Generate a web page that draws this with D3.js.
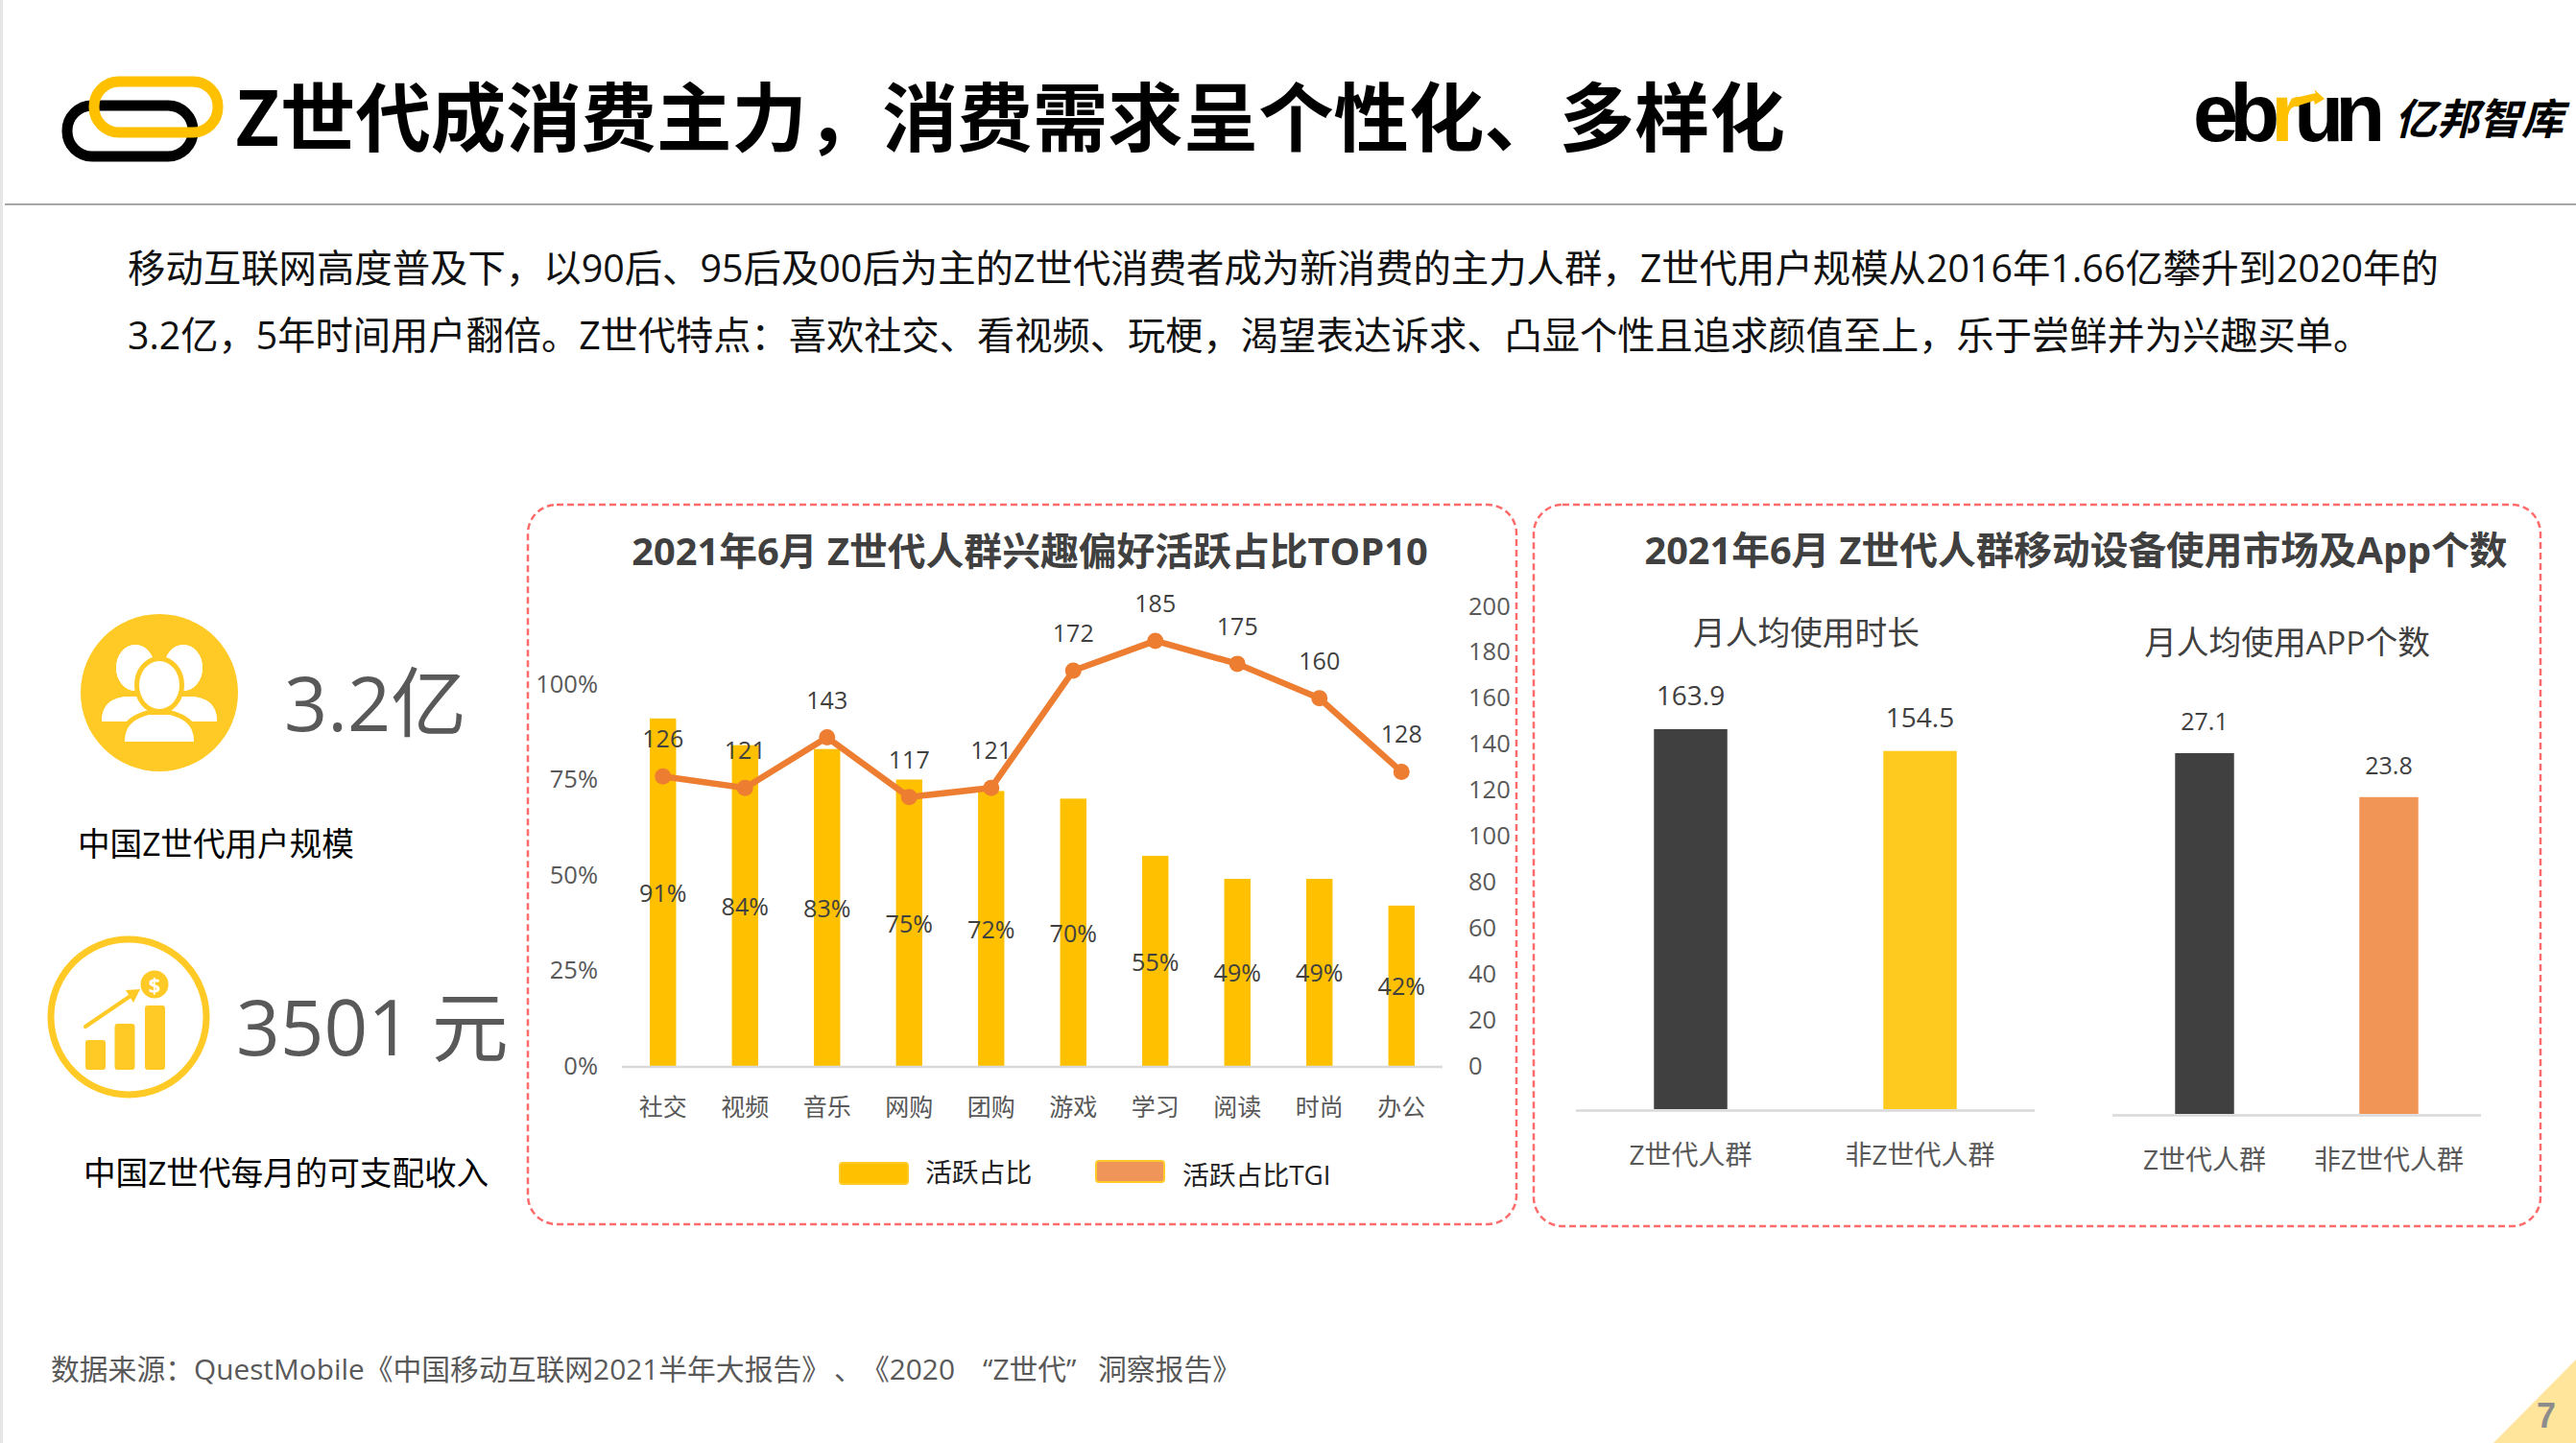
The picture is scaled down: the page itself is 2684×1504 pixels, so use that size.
<!DOCTYPE html>
<html>
<head>
<meta charset="utf-8">
<script src="https://cdn.jsdelivr.net/npm/d3@7"></script>
<style>
  body { margin: 0; background: #fff; }
  svg { display: block; }
  text { font-family: "Open Sans", "Noto Sans CJK SC", sans-serif; }
  .domain { display: none; }
</style>
</head>
<body>
<div id="chart"></div>
<script>
// interest chart
const interestCats = ["社交", "视频", "音乐", "网购", "团购", "游戏", "学习", "阅读", "时尚", "办公"];
const activeShare = [91, 84, 83, 75, 72, 70, 55, 49, 49, 42];
const activeTgi = [126, 121, 143, 117, 121, 172, 185, 175, 160, 128];
const shareTicks = [0, 25, 50, 75, 100];
const tgiTicks = [0, 20, 40, 60, 80, 100, 120, 140, 160, 180, 200];

// device usage charts
const groupCats = ["Z世代人群", "非Z世代人群"];
const usageHours = [163.9, 154.5];
const usageApps = [27.1, 23.8];

const w = 2684;
const h = 1504;
const yellow = "#ffc000";
const orange = "#ed7d31";
const grey = "#595959";
const dark = "#404040";

const svg = d3
  .select("#chart")
  .append("svg")
  .attr("width", w)
  .attr("height", h);

function label(parent, x, y, str, size, fill, anchor, weight) {
  return parent
    .append("text")
    .attr("x", x)
    .attr("y", y)
    .attr("dominant-baseline", "central")
    .attr("text-anchor", anchor || "start")
    .attr("font-size", size)
    .attr("font-weight", weight || 400)
    .attr("fill", fill)
    .text(str);
}

// page furniture
svg.append("rect").attr("width", 3).attr("height", h).attr("fill", "#e6e6e6");
svg.append("line")
  .attr("x1", 5).attr("x2", w).attr("y1", 213).attr("y2", 213)
  .attr("stroke", "#a6a6a6").attr("stroke-width", 2);

svg.append("rect")
  .attr("x", 70).attr("y", 110).attr("width", 131).attr("height", 53).attr("rx", 26)
  .attr("fill", "none").attr("stroke", "#000").attr("stroke-width", 11);
svg.append("rect")
  .attr("x", 98).attr("y", 85).attr("width", 129).attr("height", 53).attr("rx", 26)
  .attr("fill", "none").attr("stroke", yellow).attr("stroke-width", 11);

label(svg, 244, 118, "Z世代成消费主力，消费需求呈个性化、多样化", 78.4, "#000", "start", 700)
  .style("font-family", '"Noto Sans CJK SC", sans-serif');

// ebrun logo
const logo = svg.append("text")
  .attr("x", 2285).attr("y", 147)
  .attr("font-size", 85)
  .attr("font-weight", 700)
  .attr("letter-spacing", -9)
  .style("font-family", '"Liberation Sans", sans-serif');
logo.append("tspan").text("eb");
logo.append("tspan").attr("fill", yellow).text("r");
logo.append("tspan").text("un");
svg.append("path")
  .attr("d", "M2387 103 L2413 97 L2411 93 L2422 103 L2412 109 L2411 105 L2392 111 Z")
  .attr("fill", yellow);
label(svg, 2495, 123, "亿邦智库", 44, "#000", "start", 700)
  .style("font-style", "italic");

// intro text
const intro = [
  "移动互联网高度普及下，以90后、95后及00后为主的Z世代消费者成为新消费的主力人群，Z世代用户规模从2016年1.66亿攀升到2020年的",
  "3.2亿，5年时间用户翻倍。Z世代特点：喜欢社交、看视频、玩梗，渴望表达诉求、凸显个性且追求颜值至上，乐于尝鲜并为兴趣买单。"
];
label(svg, 133, 279, intro[0], 39.4, "#111");
label(svg, 133, 348, intro[1], 39.25, "#111");

// left column: user icon
const iconYellow = "#ffc926";
const people = svg.append("g");
people.append("circle")
  .attr("cx", 166).attr("cy", 722).attr("r", 82)
  .attr("fill", iconYellow);

function person(g, cx, headY, rx, ry, bottom, half, stroke) {
  const shoulder = headY + ry - 6;
  const d = `M${cx - half} ${bottom} C${cx - half} ${bottom - 18} ${cx - half * 0.7} ${bottom - 24} ${cx - half * 0.3} ${shoulder + 12}` +
    ` L${cx + half * 0.3} ${shoulder + 12} C${cx + half * 0.7} ${bottom - 24} ${cx + half} ${bottom - 18} ${cx + half} ${bottom} Z`;
  [stroke, false].forEach((s) => {
    g.append("path").attr("d", d).attr("fill", "#fff")
      .attr("stroke", s ? iconYellow : "none").attr("stroke-width", 10);
    g.append("ellipse")
      .attr("cx", cx).attr("cy", headY).attr("rx", rx).attr("ry", ry)
      .attr("fill", "#fff")
      .attr("stroke", s ? iconYellow : "none").attr("stroke-width", 10);
  });
}
person(people, 141, 696, 20, 24, 752, 35, false);
person(people, 191, 696, 20, 24, 752, 35, false);
person(people, 166, 714, 21, 25, 773, 36, true);

label(svg, 296, 731, "3.2亿", 79, grey);
label(svg, 81, 879, "中国Z世代用户规模", 33.6, "#000");

// left column: income icon
const income = svg.append("g");
income.append("circle")
  .attr("cx", 134).attr("cy", 1060).attr("r", 81)
  .attr("fill", "none").attr("stroke", iconYellow).attr("stroke-width", 7);
income.selectAll("rect")
  .data([[89, 1084], [119.5, 1067], [151, 1048]])
  .join("rect")
  .attr("x", (d) => d[0])
  .attr("y", (d) => d[1])
  .attr("width", 21)
  .attr("height", (d) => 1115 - d[1])
  .attr("rx", 3)
  .attr("fill", iconYellow);
income.append("line")
  .attr("x1", 89).attr("y1", 1070).attr("x2", 136).attr("y2", 1038)
  .attr("stroke", iconYellow).attr("stroke-width", 4).attr("stroke-linecap", "round");
income.append("path").attr("d", "M146 1031 L131 1032 L139 1045 Z").attr("fill", iconYellow);
income.append("circle").attr("cx", 161).attr("cy", 1026).attr("r", 14.5).attr("fill", iconYellow);
label(income, 161, 1026, "$", 22, "#fff", "middle", 700);

label(svg, 246, 1068, "3501 元", 80, grey);
label(svg, 87, 1222, "中国Z世代每月的可支配收入", 33.6, "#000");

// source line, split so the wide gaps fall where they do on the slide
const source = svg.append("g");
label(source, 53, 1426, "数据来源：QuestMobile《中国移动互联网2021半年大报告》", 29.8, grey);
label(source, 869, 1426, "、", 29.8, grey);
label(source, 897, 1426, "《2020", 29.8, grey);
label(source, 1024, 1426, "“Z世代”", 29.8, grey);
label(source, 1144, 1426, "洞察报告》", 29.8, grey);

// page number corner
svg.append("path").attr("d", `M2598 ${h} L${w} 1417 L${w} ${h} Z`).attr("fill", "#ffe49b");
label(svg, 2653, 1475, "7", 36, "#8c8c8c", "middle", 700)
  .style("font-family", '"Liberation Sans", sans-serif');

// dashed panels
[[550, 526, 1030, 750], [1598, 526, 1049, 752]].forEach((p) => {
  svg.append("rect")
    .attr("x", p[0]).attr("y", p[1]).attr("width", p[2]).attr("height", p[3]).attr("rx", 30)
    .attr("fill", "none").attr("stroke", "#ff6b6b").attr("stroke-width", 2.5)
    .attr("stroke-dasharray", "7 4");
});

label(svg, 1073, 573, "2021年6月 Z世代人群兴趣偏好活跃占比TOP10", 39.8, dark, "middle", 700);
label(svg, 2163, 573, "2021年6月 Z世代人群移动设备使用市场及App个数", 39.7, dark, "middle", 700);

// interest chart
const baseY = 1111;
const x = d3.scaleBand().domain(interestCats).range([648, 1503]).paddingInner(0.68).paddingOuter(0.34);
const yShare = d3.scaleLinear().domain([0, 100]).range([baseY, baseY - 398]);
const yTgi = d3.scaleLinear().domain([0, 200]).range([baseY, 632]);

const axisLine = (g, x1, x2, y) =>
  g.append("line")
    .attr("x1", x1).attr("x2", x2).attr("y1", y).attr("y2", y)
    .attr("stroke", "#d9d9d9").attr("stroke-width", 2.5);

const styleAxis = (g, size, color) => {
  g.selectAll("text")
    .attr("font-size", size)
    .attr("fill", color)
    .attr("dominant-baseline", "central")
    .attr("dy", 0)
    .style("font-family", null);
  g.attr("font-family", null);
};

svg.append("g")
  .attr("transform", `translate(646, -2)`)
  .call(d3.axisLeft(yShare).tickValues(shareTicks).tickSize(0).tickPadding(23).tickFormat((d) => d + "%"))
  .call(styleAxis, 25.5, grey);

svg.append("g")
  .attr("transform", `translate(1530, -2)`)
  .call(d3.axisRight(yTgi).tickValues(tgiTicks).tickSize(0).tickPadding(0))
  .call(styleAxis, 25.5, grey);

svg.selectAll(".share-bar")
  .data(activeShare)
  .join("rect")
  .attr("class", "share-bar")
  .attr("x", (d, i) => x(interestCats[i]))
  .attr("y", (d) => yShare(d))
  .attr("width", x.bandwidth())
  .attr("height", (d) => baseY - yShare(d))
  .attr("fill", yellow);

axisLine(svg, 648, 1503, baseY + 1);

svg.append("g")
  .attr("transform", `translate(0, ${baseY + 1})`)
  .call(d3.axisBottom(x).tickSize(0).tickPadding(41))
  .call(styleAxis, 25, grey);

const cx = (i) => x(interestCats[i]) + x.bandwidth() / 2;

const tgiLine = d3.line().x((d, i) => cx(i)).y((d) => yTgi(d));
svg.append("path")
  .datum(activeTgi)
  .attr("d", tgiLine)
  .attr("fill", "none")
  .attr("stroke", orange)
  .attr("stroke-width", 6.5)
  .attr("stroke-linejoin", "round");

svg.selectAll(".tgi-dot")
  .data(activeTgi)
  .join("circle")
  .attr("class", "tgi-dot")
  .attr("cx", (d, i) => cx(i))
  .attr("cy", (d) => yTgi(d))
  .attr("r", 8.5)
  .attr("fill", orange);

activeTgi.forEach((d, i) => {
  label(svg, cx(i), yTgi(d) - 40, d, 25, dark, "middle");
});
activeShare.forEach((d, i) => {
  label(svg, cx(i), (yShare(d) + baseY) / 2, d + "%", 25, dark, "middle");
});

// legend
const legendItems = [
  { name: "活跃占比", x: 875, y: 1212, fill: yellow, tx: 964, ty: 1221 },
  { name: "活跃占比TGI", x: 1142, y: 1210, fill: "#f0955a", tx: 1232, ty: 1224 }
];
legendItems.forEach((d) => {
  svg.append("rect")
    .attr("x", d.x).attr("y", d.y).attr("width", 71).attr("height", 22).attr("rx", 3)
    .attr("fill", d.fill).attr("stroke", "#ffca28").attr("stroke-width", 2);
  label(svg, d.tx, d.ty, d.name, 27.8, "#222");
});

// device usage charts
function usageChart(opts) {
  const xs = d3.scaleBand().domain(groupCats).range([opts.x0, opts.x1]).paddingInner(opts.pad).paddingOuter(opts.pad / 2);
  const ys = d3.scaleLinear().domain([0, opts.max]).range([opts.base, opts.top]);

  svg.selectAll(`.${opts.cls}`)
    .data(opts.values)
    .join("rect")
    .attr("class", opts.cls)
    .attr("x", (d, i) => xs(groupCats[i]))
    .attr("y", (d) => ys(d))
    .attr("width", xs.bandwidth())
    .attr("height", (d) => opts.base - ys(d))
    .attr("fill", (d, i) => opts.colors[i]);

  axisLine(svg, opts.x0, opts.x1, opts.base + 1.5);

  svg.append("g")
    .attr("transform", `translate(0, ${opts.base + 1.5})`)
    .call(d3.axisBottom(xs).tickSize(0).tickPadding(45))
    .call(styleAxis, 28, grey);

  opts.values.forEach((d, i) => {
    label(svg, xs(groupCats[i]) + xs.bandwidth() / 2, ys(d) - opts.gap, d, opts.labelSize, dark, "middle");
  });
  label(svg, opts.tx, opts.ty, opts.title, 33.7, dark, "middle");
}

usageChart({
  cls: "hours-bar", values: usageHours, max: 163.9, base: 1156, top: 760,
  x0: 1642, x1: 2120, pad: 0.68, colors: [dark, "#ffca20"],
  gap: 36, labelSize: 28, title: "月人均使用时长", tx: 1882, ty: 659
});
usageChart({
  cls: "apps-bar", values: usageApps, max: 27.1, base: 1161, top: 785,
  x0: 2201, x1: 2585, pad: 0.68, colors: [dark, "#f09556"],
  gap: 34, labelSize: 25, title: "月人均使用APP个数", tx: 2383, ty: 669
});
</script>
</body>
</html>
